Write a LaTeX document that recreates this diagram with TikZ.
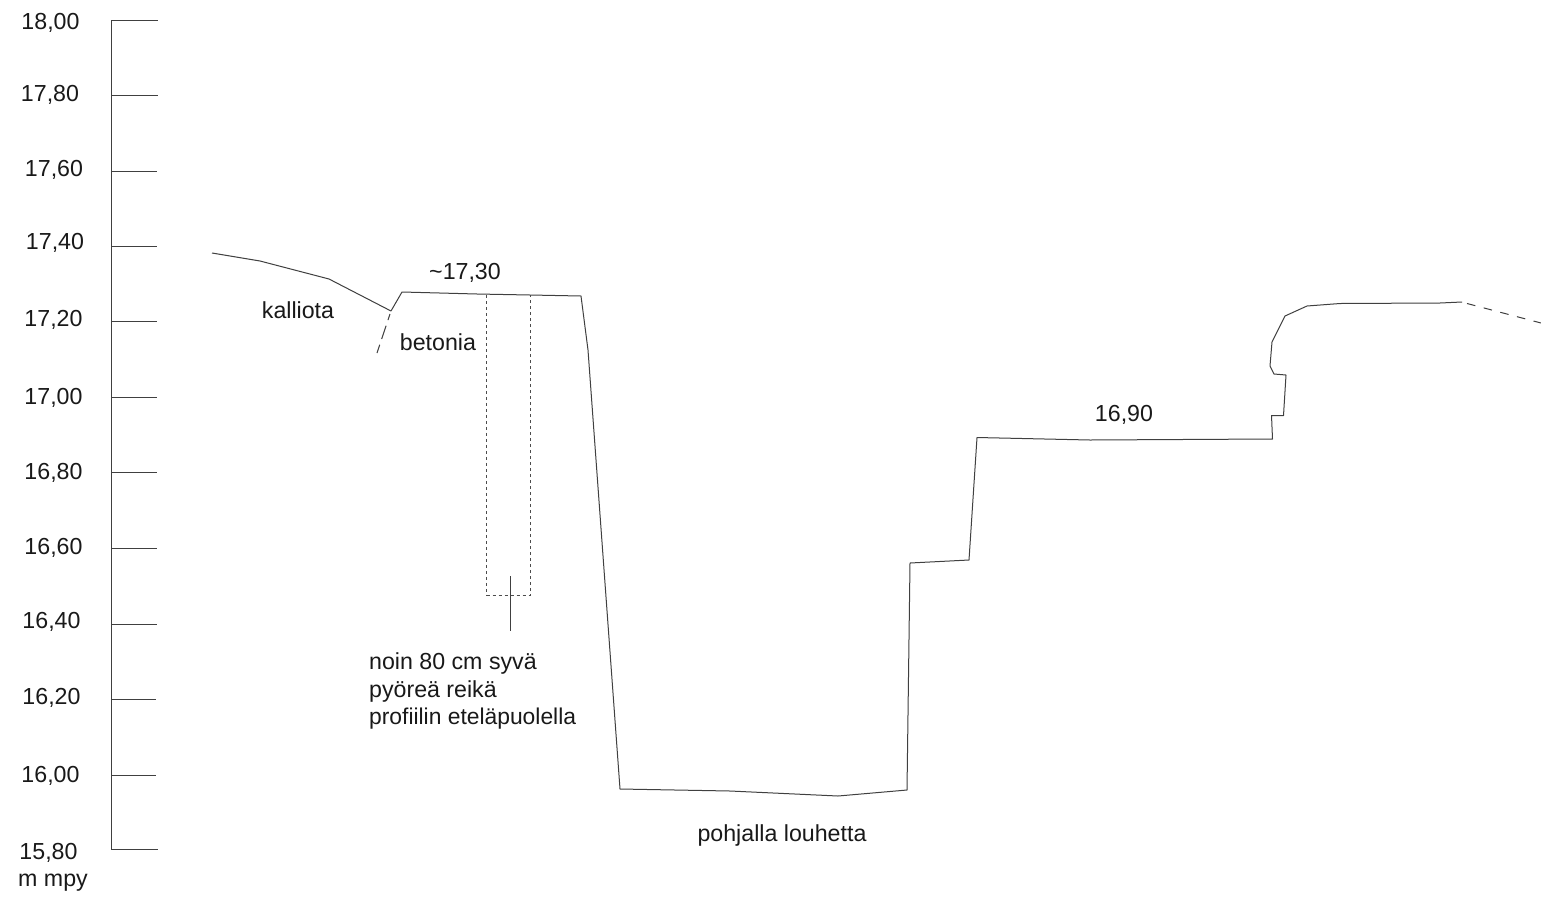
\documentclass[tikz,border=0pt]{standalone}
\usepackage{fontspec}
\setmainfont{Liberation Sans}
\tikzset{
  ln/.style={draw=black!75,line width=0.05cm,line join=round},
  dshl/.style={ln,dash pattern=on 0.32cm off 0.3cm on 0.7cm off 0.3cm on 0.4cm off 0cm},
  dshr/.style={ln,dash pattern=on 0.43cm off 0.43cm},
  dot/.style={draw=black!70,line width=0.05cm,dash pattern=on 0.15cm off 0.15cm},
  lb/.style={inner sep=0pt,anchor=center,font=\fontsize{33pt}{38pt}\selectfont,text=black!90},
  ll/.style={inner sep=0pt,anchor=west,font=\fontsize{33pt}{38pt}\selectfont,text=black!90}
}
\begin{document}
\begin{tikzpicture}[x=0.05cm,y=-0.05cm]
\useasboundingbox (0,0) rectangle (1541,897);
\fill[white] (0,0) rectangle (1541,897);
% scale
\draw[ln] (111,20) -- (111,849.5);
\foreach \yy/\xx in {20.5/158,95.5/158,171/157,246.5/157,321.5/157,397/157,472.5/157,548.5/157,624.5/157,699.5/156,775.5/156,849.5/158}
  \draw[ln] (111,\yy) -- (\xx,\yy);
\node[lb] (t1) at (50.5,22.5) {18,00};
\node[lb] (t2) at (50,94.5) {17,80};
\node[lb] (t3) at (54,169.5) {17,60};
\node[lb] (t4) at (55,242.5) {17,40};
\node[lb] (t5) at (53.5,319.5) {17,20};
\node[lb] (t6) at (53.5,397.5) {17,00};
\node[lb] (t7) at (53.5,472.5) {16,80};
\node[lb] (t8) at (53.5,547.5) {16,60};
\node[lb] (t9) at (51.5,621.5) {16,40};
\node[lb] (t10) at (51.5,697.5) {16,20};
\node[lb] (t11) at (50.5,775.5) {16,00};
\node[lb] (t12) at (48.5,852.5) {15,80};
\node[lb] (t13) at (53,882.5) {m mpy};
% profile
\draw[ln] (212,253) -- (260,261) -- (329,279) -- (391,311);
\draw[dshl] (390,314) -- (377,353);
\draw[ln] (391,311) -- (402,292) -- (477,294) -- (530,295) -- (581,296) -- (588,350) -- (620,789) -- (730,791) -- (838,796) -- (907,790) -- (910,563) -- (969,560) -- (977,437.5) -- (1090,440) -- (1272.5,439) -- (1271.5,415.5) -- (1283.5,415.5) -- (1286,375) -- (1274,374) -- (1270,366) -- (1272,342) -- (1285,316) -- (1307,306) -- (1340,303.5) -- (1440,303) -- (1462,302);
\draw[dshr] (1467,303.5) -- (1541,323);
% hole
\draw[dot] (486.7,295) -- (486.7,595) -- (530.7,595) -- (530.7,295);
\draw[ln] (510.7,576) -- (510.7,631);
% labels
\node[lb] (a) at (298,310.5) {kalliota};
\node[lb] (b) at (438,342.5) {betonia};
\node[lb] (c) at (465,273) {\textasciitilde17,30};
\node[lb] (d) at (1124,415) {16,90};
\node[ll] (e) at (369,663.5) {noin 80 cm syvä};
\node[ll] (f) at (369,691.5) {pyöreä reikä};
\node[ll,font=\fontsize{32.5pt}{38pt}\selectfont] (g) at (369,718.5) {profiilin eteläpuolella};
\node[lb] (h) at (782,835) {pohjalla louhetta};
\end{tikzpicture}
\end{document}
